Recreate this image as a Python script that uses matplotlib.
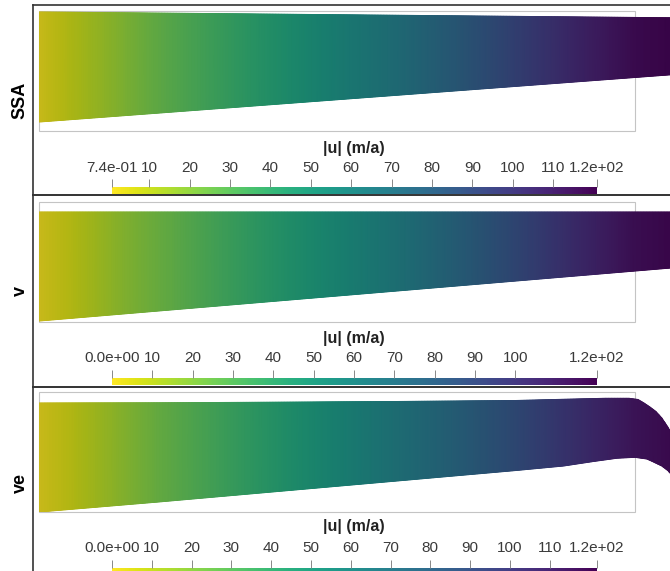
import numpy as np
import matplotlib
matplotlib.use('Agg')
import matplotlib.pyplot as plt
from matplotlib.colors import Normalize, ListedColormap
from matplotlib.cm import ScalarMappable
from matplotlib.patches import Rectangle

plt.rcParams['font.family'] = ['Liberation Sans', 'DejaVu Sans']

W, H = 670, 571

# model names down the left side
models = ['SSA', 'v', 've']

# colour bar range of each run (m/a)
speed_min = [0.74, 0.0, 0.0]
speed_max = [120.9, 120.3, 121.9]
# interior colour bar ticks
inner_ticks = [
    [10, 20, 30, 40, 50, 60, 70, 80, 90, 100, 110],
    [10, 20, 30, 40, 50, 60, 70, 80, 90, 100],
    [10, 20, 30, 40, 50, 60, 70, 80, 90, 100, 110],
]

# glacier outline: distance along flow (km) vs surface / base elevation (m)
ssa_x = [0, 110]
ssa_top = [1190, 1130]
ssa_base = [90, 580]

v_x = [0, 110]
v_top = [1100, 1100]
v_base = [10, 560]

ve_top_x = [0, 20, 40, 60, 80, 90, 95, 99, 100.5, 101.5, 102.5, 103.5, 104.5, 105.5, 108]
ve_top = [1090, 1092, 1098, 1105, 1115, 1130, 1137, 1137, 1125, 1090, 1050, 1005, 940, 850, 600]
ve_base_x = [0, 20, 40, 60, 80, 88, 93, 97, 100, 102, 103, 104.5, 105.5, 108]
ve_base = [0, 100, 205, 310, 415, 460, 505, 538, 547, 530, 503, 460, 415, 250]

# speed along flow (m/a)
speed_x = [0, 5, 10, 15, 20, 30, 40, 50, 60, 70, 80, 90, 100, 110]
ssa_speed = [2, 8, 14, 20, 26, 36, 46, 57, 68, 80, 93, 106, 117, 121]
v_speed = [1, 6, 12, 18, 23, 33, 43, 53, 64, 76, 89, 103, 115, 120]
ve_speed = [1, 6, 12, 18, 24, 34, 44, 55, 66, 77, 89, 102, 114, 121]

runs = [
    (ssa_x, ssa_top, ssa_x, ssa_base, ssa_speed),
    (v_x, v_top, v_x, v_base, v_speed),
    (ve_top_x, ve_top, ve_base_x, ve_base, ve_speed),
]

# pixel layout of the three panels
panel_top = [5, 195, 387]
panel_bottom = [195, 387, 579]
box_px = [(11, 131), (202, 322), (392, 512)]
title_y = [148, 338, 527]
bar_top = [187, 378, 568]
px_per_km = 5.96
box_len, box_height = 100, 1200

fig = plt.figure(figsize=(W / 100, H / 100), dpi=100)


def px_axes(x0, y0, x1, y1, **kw):
    return fig.add_axes([x0 / W, 1 - y1 / H, (x1 - x0) / W, (y1 - y0) / H], **kw)


def px_pt(x, y):
    return x / W, 1 - y / H


# rendered surfaces look a little darker than the bar
base_cols = plt.get_cmap('viridis_r')(np.linspace(0, 1, 256))
lit_cols = base_cols.copy()
lit_cols[:, :3] *= 0.8
surf_cmap = ListedColormap(lit_cols)
bar_cmap = plt.get_cmap('viridis_r')

for i, (tx, tz, bx, bz, spd) in enumerate(runs):
    # panel frame
    fr = px_axes(33, panel_top[i], 675, panel_bottom[i])
    fr.set_xticks([])
    fr.set_yticks([])
    fr.patch.set_visible(False)
    fr.spines['right'].set_visible(False)
    for s in ['left', 'top', 'bottom']:
        fr.spines[s].set_color('#333333')
        fr.spines[s].set_linewidth(1.2)

    cx, cy = px_pt(20, (panel_top[i] + panel_bottom[i]) / 2)
    fig.text(cx, cy, models[i], rotation=90, ha='center', va='center',
             fontsize=13, fontweight='bold', color='black')

    # glacier domain
    b0, b1 = box_px[i]
    ax = px_axes(39, b0, 670, b1)
    ax.set_xlim(0, (670 - 39) / px_per_km)
    ax.set_ylim(0, box_height)
    ax.axis('off')
    ax.add_patch(Rectangle((0, 0), box_len, box_height, fill=False,
                           ec='#c4c4c4', lw=0.8, clip_on=False, zorder=1))

    norm = Normalize(speed_min[i], speed_max[i])
    xs = np.linspace(0, 110, 881)
    top = np.interp(xs, tx, tz)
    bot = np.interp(xs, bx, bz)
    eta = np.array([0.0, 1.0])[:, None]
    X = np.repeat(xs[None, :], 2, axis=0)
    Z = bot[None, :] + eta * (top - bot)[None, :]
    C = np.repeat(np.interp(xs, speed_x, spd)[None, :], 2, axis=0)
    ax.pcolormesh(X, Z, C, shading='gouraud', cmap=surf_cmap, norm=norm, zorder=2)

    # colour bar
    cax = px_axes(112, bar_top[i], 597, bar_top[i] + 7)
    cb = fig.colorbar(ScalarMappable(norm=norm, cmap=bar_cmap), cax=cax,
                      orientation='horizontal')
    cb.outline.set_visible(False)
    ticks = [speed_min[i]] + inner_ticks[i] + [speed_max[i]]
    labels = [f'{speed_min[i]:.1e}'] + [str(t) for t in inner_ticks[i]] + [f'{speed_max[i]:.1e}']
    cb.set_ticks(ticks)
    cb.set_ticklabels(labels)
    cax.xaxis.set_ticks_position('top')
    cax.tick_params(axis='x', direction='out', length=6, width=0.7, color='#888888',
                    labelsize=11, labelcolor='#3a3a3a', pad=3)
    tx_, ty_ = px_pt(354, title_y[i])
    fig.text(tx_, ty_, '|u| (m/a)', ha='center', va='center', fontsize=11.5,
             fontweight='bold', color='#222222')

fig.savefig('out.png', dpi=100)
